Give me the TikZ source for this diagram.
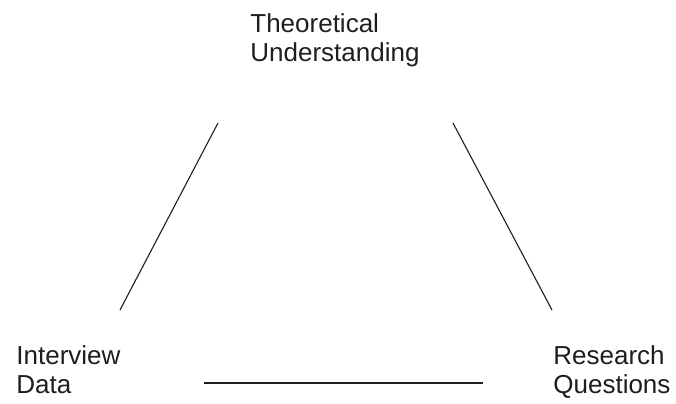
\documentclass[tikz,border=0pt]{standalone}
\usepackage{fontspec}
\setmainfont{Liberation Sans}
\usetikzlibrary{positioning}
\definecolor{cText}{RGB}{30,30,30}
\tikzset{
	label/.style={align=left, inner sep=0pt, anchor=north west, text=cText, font=\fontsize{13}{14.6}\selectfont},
	edge/.style ={line width=0.55pt, cText},
}

\begin{document}
\begin{tikzpicture}[x=0.5pt, y=-0.5pt]
	\useasboundingbox (0,0) rectangle (676,403);
	% the three corners
	\node[label] (theory)    at (250,13)  {Theoretical\\Understanding};
	\node[label] (data)      at (16,345)  {Interview\\Data};
	\node[label] (questions) at (553,345) {Research\\Questions};
	% free ends of the sides
	\coordinate (tl) at (218,123);
	\coordinate (dl) at (120,310);
	\coordinate (tr) at (453,123);
	\coordinate (qr) at (552,310);
	\coordinate (db) at (204,383);
	\coordinate (qb) at (483,383);
	\draw[edge] (tl) -- (dl);
	\draw[edge] (tr) -- (qr);
	\draw[edge] (db) -- (qb);
\end{tikzpicture}
\end{document}
